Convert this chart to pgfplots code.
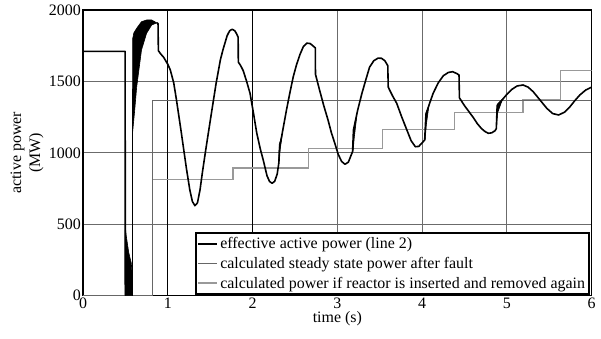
\documentclass[border=0pt]{standalone}
\usepackage{pgfplots}
\pgfplotsset{compat=1.18}
\usepackage{fontspec}
\setmainfont{Liberation Serif}
\definecolor{steady}{gray}{0.40}
\definecolor{react}{gray}{0.60}
\definecolor{gridc}{gray}{0.42}
\begin{document}
\begin{tikzpicture}[font=\fontsize{16}{19}\selectfont]
\begin{axis}[
  name=ax,
  scale only axis,
  width=508.7bp, height=285.7bp,
  xmin=0, xmax=6, ymin=0, ymax=2000,
  xtick={0,3,4,5,6},
  extra x ticks={1,2},
  extra x tick style={grid style={black, line width=0.9bp}},
  ytick={0,500,1000,1500,2000},
  grid=major,
  grid style={gridc, line width=1bp},
  tick style={draw=none},
  axis line style={black, line width=1.4bp},
  /pgf/number format/assume math mode=true,
  /pgf/number format/1000 sep={},
  tick label style={font=\fontsize{16}{19}\selectfont},
  xticklabel style={inner sep=2bp},
  yticklabel style={inner sep=2bp},
  xlabel={time (s)},
  ylabel={active power\\(MW)},
  label style={font=\fontsize{16}{19}\selectfont},
  xlabel style={yshift=3bp},
  ylabel style={align=center},
  legend style={name=leg, at={(rel axis cs:1,0)}, anchor=south east, xshift=-3bp, yshift=2bp,
    draw=none, fill=white, inner xsep=1.5bp, inner ysep=2bp,
    row sep=3bp, font=\fontsize{16}{19}\selectfont},
  legend cell align=left,
  legend image code/.code={\draw[#1] (0bp,0bp) -- (19bp,0bp);},
]
\addlegendimage{black, line width=1.8bp}
\addlegendentry{effective active power (line 2)}
\addlegendimage{steady, line width=1.6bp}
\addlegendentry{calculated steady state power after fault}
\addlegendimage{react, line width=1.6bp}
\addlegendentry{calculated power if reactor is inserted and removed again}

% reactor inserted / removed steps
\addplot[const plot, react, line width=1.4bp, forget plot] coordinates {
(0,0) (0.82,815) (1.77,893) (2.66,1030) (3.53,1163) (4.38,1283) (5.19,1372) (5.63,1575) (6,1575)};
% steady state
\addplot[const plot, steady, line width=1.4bp, forget plot] coordinates {
(0,0) (0.82,1365) (6,1365)};

% effective active power
\addplot[black, line width=1.6bp, line join=round, forget plot] coordinates {
(0,1710) (0.497,1710) (0.499,0)};
\addplot[black, fill=black, line width=0.6bp, forget plot] coordinates {
(0.497,0) (0.499,483) (0.51,420) (0.54,300) (0.57,228) (0.575,180) (0.586,180) (0.586,0)} -- cycle;
\addplot[black, fill=black, line width=0.6bp, forget plot] coordinates {
(0.583,1130) (0.586,1800) (0.60,1840) (0.633,1872) (0.69,1918) (0.75,1930) (0.81,1930) (0.87,1910)
(0.81,1895) (0.75,1837) (0.69,1720) (0.633,1460) (0.61,1300)} -- cycle;
\addplot[black, line width=1.6bp, line join=round, forget plot] coordinates {
(0.584,0) (0.584,1140)};
\addplot[black, fill=black, line width=0.6bp, forget plot] coordinates {
(2.305,900) (2.315,1060) (2.35,1130) (2.32,1000)} -- cycle;
\addplot[black, fill=black, line width=0.6bp, forget plot] coordinates {
(3.185,1010) (3.195,1170) (3.23,1260) (3.20,1110)} -- cycle;
\addplot[black, fill=black, line width=0.6bp, forget plot] coordinates {
(4.035,1090) (4.045,1280) (4.08,1330) (4.05,1200)} -- cycle;
\addplot[black, fill=black, line width=0.6bp, forget plot] coordinates {
(4.875,1170) (4.885,1340) (4.95,1378) (4.89,1280)} -- cycle;
\addplot[black, line width=1.6bp, line join=round, forget plot] table {
0.87 1910
0.885 1905
0.889 1715
0.92 1690
0.95 1670
1.00 1620
1.03 1580
1.07 1490
1.10 1380
1.16 1140
1.22 890
1.26 740
1.29 660
1.32 630
1.35 650
1.38 740
1.41 870
1.45 1030
1.51 1260
1.57 1487
1.62 1650
1.65 1720
1.70 1820
1.73 1855
1.76 1865
1.79 1855
1.81 1835
1.83 1810
1.832 1635
1.86 1610
1.89 1575
1.93 1500
1.97 1417
2.01 1280
2.05 1137
2.09 1030
2.13 940
2.17 840
2.20 800
2.23 787
2.26 800
2.29 850
2.31 930
2.32 1040
2.36 1170
2.40 1300
2.44 1420
2.48 1533
2.52 1620
2.56 1690
2.60 1745
2.64 1768
2.68 1765
2.72 1745
2.74 1735
2.742 1550
2.79 1440
2.84 1330
2.89 1230
2.93 1140
2.97 1067
3.01 990
3.05 940
3.09 920
3.13 935
3.16 980
3.18 1010
3.19 1160
3.24 1300
3.29 1417
3.34 1520
3.38 1600
3.43 1645
3.48 1663
3.52 1662
3.56 1645
3.595 1610
3.60 1460
3.65 1400
3.70 1347
3.76 1250
3.82 1160
3.87 1085
3.92 1043
3.96 1045
4.00 1070
4.03 1090
4.045 1270
4.09 1350
4.13 1417
4.19 1490
4.25 1540
4.31 1563
4.36 1568
4.41 1555
4.435 1545
4.44 1385
4.50 1330
4.55 1290
4.60 1250
4.65 1205
4.70 1170
4.74 1150
4.78 1137
4.82 1140
4.86 1155
4.875 1170
4.885 1330
4.95 1375
5.00 1410
5.06 1445
5.12 1468
5.19 1475
5.25 1460
5.31 1428
5.39 1370
5.47 1312
5.54 1275
5.61 1265
5.68 1285
5.74 1320
5.80 1365
5.86 1405
5.93 1440
6.00 1460
};
\end{axis}
\draw[black, line width=1.6bp] (leg.south west) rectangle (leg.north east);
\pgfresetboundingbox
\path[use as bounding box] ([xshift=-83bp,yshift=-42.3bp]ax.south west) rectangle ([xshift=9.3bp,yshift=10bp]ax.north east);
\end{tikzpicture}
\end{document}
